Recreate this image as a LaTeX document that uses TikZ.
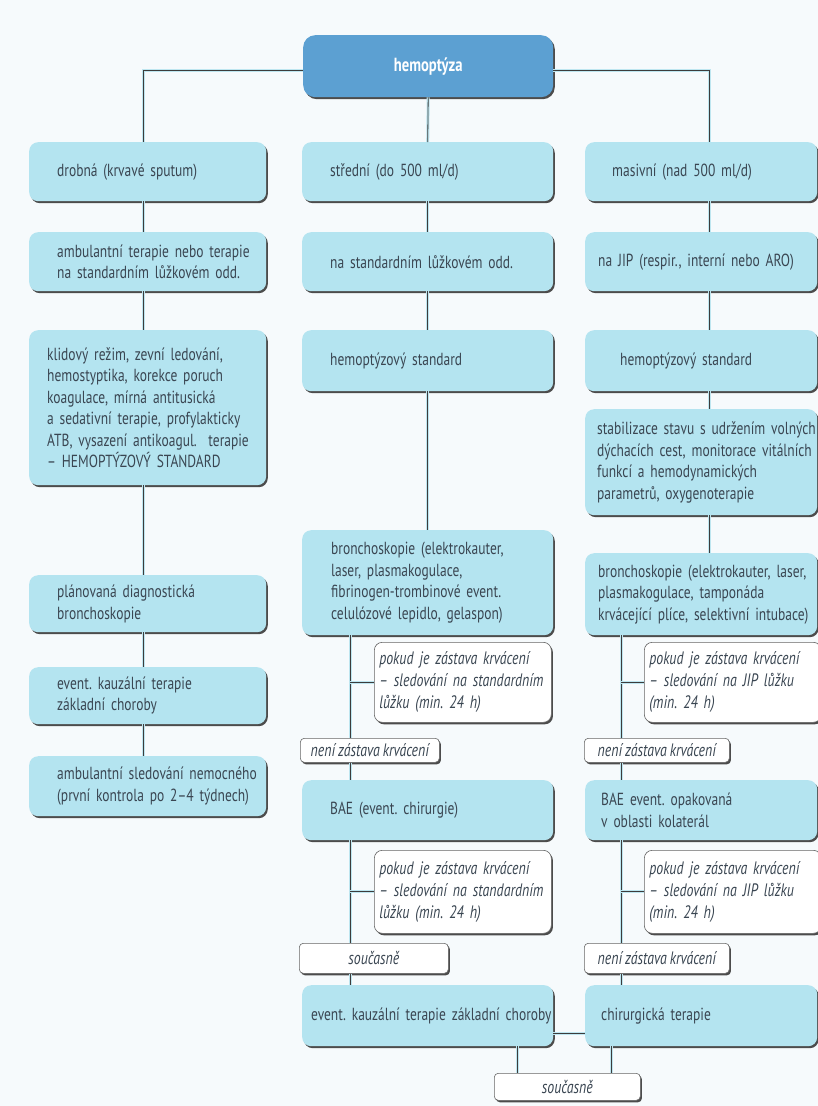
\documentclass[tikz,border=0pt]{standalone}
\usepackage{fontspec}
\setmainfont{PT Sans}[FakeStretch=0.77, WordSpace=0.8]
\usepackage{xcolor}
\usepackage{tikz}
\usetikzlibrary{positioning,calc}

\definecolor{bgc}{RGB}{246,250,252}
\definecolor{boxc}{RGB}{180,228,240}
\definecolor{headc}{RGB}{92,160,210}
\definecolor{txtc}{RGB}{58,70,82}
\definecolor{linec}{RGB}{60,60,60}
\definecolor{haloc}{RGB}{190,230,240}

\tikzset{
  blk/.style={rectangle, fill=boxc, rounded corners=9pt, anchor=north west,
              preaction={fill=black!70, transform canvas={xshift=1.6pt, yshift=-2pt}},
              text=txtc, align=left, inner xsep=6pt, inner ysep=2pt,
              font=\fontsize{17.5}{21.5}\selectfont},
  c1/.style={blk, text width=225pt},
  c2/.style={blk, text width=239pt},
  c3/.style={blk, text width=224pt, inner xsep=4pt},
  ind/.style={execute at begin node={\leftskip=#1pt\rightskip=-25pt plus 1fil}},
  hblk/.style={blk, fill=headc, rounded corners=12pt, text=white, align=center,
               font=\bfseries\fontsize{19}{22}\selectfont},
  nblk/.style={blk, fill=white, draw=black!60, line width=0.6pt, rounded corners=8pt,
               inner xsep=5pt, text width=167pt, ind=0,
               font=\itshape\fontsize{18}{22}\selectfont},
  sblk/.style={blk, fill=white, draw=black!60, line width=0.6pt, rounded corners=4pt,
               inner xsep=1pt, align=center, font=\itshape\fontsize{18}{20}\selectfont},
  ln/.style={draw=linec, line width=0.8pt, preaction={draw=haloc, line width=3pt}},
}

\begin{document}
\frenchspacing
\begin{tikzpicture}[x=1pt, y=-1pt]

\fill[bgc] (0,0) rectangle (818,1106);
\useasboundingbox (0,0) rectangle (818,1106);

% Header
\node[hblk, minimum width=250pt, minimum height=62pt] (top) at (303,35) {hemoptýza};

% Column 1: drobná
\node[c1, minimum height=59pt, ind=22] (c1a) at (29,142) {drobná (krvavé sputum)};
\node[c1, minimum height=59pt, ind=22] (c1b) at (29,232) {ambulantní terapie nebo terapie\\na standardním lůžkovém odd.};
\node[c1, minimum height=155pt, ind=12] (c1c) at (29,330) {klidový režim, zevní ledování,\\hemostyptika, korekce poruch\\koagulace, mírná antitusická\\a sedativní terapie, profylakticky\\ATB, vysazení antikoagul.\ \ terapie\\– HEMOPTÝZOVÝ STANDARD};
\node[c1, minimum height=57pt, ind=22] (c1d) at (29,575) {plánovaná diagnostická\\bronchoskopie};
\node[c1, minimum height=57pt, ind=22] (c1e) at (29,667) {event. kauzální terapie\\základní choroby};
\node[c1, minimum height=60pt, ind=22] (c1f) at (29,756) {ambulantní sledování nemocného\\(první kontrola po 2–4 týdnech)};

% Column 2: střední
\node[c2, minimum height=59pt, ind=22] (c2a) at (302,142) {střední (do 500 ml/d)};
\node[c2, minimum height=59pt, ind=22] (c2b) at (302,232) {na standardním lůžkovém odd.};
\node[c2, minimum height=61pt, ind=22] (c2c) at (302,330) {hemoptýzový standard};
\node[c2, minimum height=105pt, ind=23] (c2d) at (302,530) {bronchoskopie (elektrokauter,\\laser, plasmakogulace,\\fibrinogen-trombinové event.\\celulózové lepidlo, gelaspon)};
\node[nblk, minimum height=80pt] (c2e) at (374,642) {pokud je zástava krvácení\\– sledování na standardním\\lůžku (min. 24 h)};
\node[sblk, minimum width=139pt, minimum height=24pt] (c2f) at (300,738) {není zástava krvácení};
\node[c2, minimum height=60pt, ind=22] (c2g) at (302,780) {BAE (event. chirurgie)};
\node[nblk, minimum height=83pt] (c2h) at (374,850) {pokud je zástava krvácení\\– sledování na standardním\\lůžku (min. 24 h)};
\node[sblk, minimum width=149pt, minimum height=30pt] (c2i) at (299,943) {současně};
\node[c2, text width=243pt, inner xsep=4pt, minimum height=61pt, ind=5] (c2j) at (302,985) {event. kauzální terapie základní choroby};

% Column 3: masivní
\node[c3, minimum height=59pt, ind=23] (c3a) at (585,142) {masivní (nad 500 ml/d)};
\node[c3, minimum height=59pt, ind=9] (c3b) at (585,232) {na JIP (respir., interní nebo ARO)};
\node[c3, minimum height=61pt, ind=31] (c3c) at (585,330) {hemoptýzový standard};
\node[c3, minimum height=106pt, ind=8] (c3d) at (585,409) {stabilizace stavu s udržením volných\\dýchacích cest, monitorace vitálních\\funkcí a hemodynamických\\parametrů, oxygenoterapie};
\node[c3, minimum height=82pt, ind=9] (c3e) at (585,553) {bronchoskopie (elektrokauter, laser,\\plasmakogulace, tamponáda\\krvácející plíce, selektivní intubace)};
\node[nblk, minimum height=80pt] (c3f) at (644,642) {pokud je zástava krvácení\\– sledování na JIP lůžku\\(min. 24 h)};
\node[sblk, minimum width=145pt, minimum height=24pt] (c3g) at (584,738) {není zástava krvácení};
\node[c3, minimum height=60pt, ind=12] (c3h) at (585,780) {BAE event. opakovaná\\v oblasti kolaterál};
\node[nblk, minimum height=83pt] (c3i) at (644,850) {pokud je zástava krvácení\\– sledování na JIP lůžku\\(min. 24 h)};
\node[sblk, minimum width=145pt, minimum height=30pt] (c3j) at (584,943) {není zástava krvácení};
\node[c3, minimum height=61pt, ind=12] (c3k) at (585,985) {chirurgická terapie};

% Bottom
\node[sblk, minimum width=146pt, minimum height=27pt] (sim) at (494,1073) {současně};

% Line positions
\coordinate (hy) at (0,70);
\coordinate (x1) at (143,0);
\coordinate (x3) at (709,0);
\coordinate (s2) at (350,0);
\coordinate (s3) at (621,0);
\coordinate (b1) at (517,0);
\coordinate (b2) at (611,0);
\coordinate (by) at (0,1033);

% Header links
\draw[ln] (top.west |- hy) -| (c1a.north -| x1);
\draw[ln] (top.east |- hy) -| (c3a.north -| x3);
\draw[ln] (top.south) -- (c2a.north);

% Column 1 links
\draw[ln] (c1a.south -| x1) -- (c1b.north -| x1);
\draw[ln] (c1b.south -| x1) -- (c1c.north -| x1);
\draw[ln] (c1c.south -| x1) -- (c1d.north -| x1);
\draw[ln] (c1d.south -| x1) -- (c1e.north -| x1);
\draw[ln] (c1e.south -| x1) -- (c1f.north -| x1);

% Column 2 links
\draw[ln] (c2a.south) -- (c2b.north);
\draw[ln] (c2b.south) -- (c2c.north);
\draw[ln] (c2c.south) -- (c2d.north);
\draw[ln] (c2d.south -| s2) -- (c2f.north -| s2);
\draw[ln] (c2e.west -| s2) -- (c2e.west);
\draw[ln] (c2f.south -| s2) -- (c2g.north -| s2);
\draw[ln] (c2g.south -| s2) -- (c2i.north -| s2);
\draw[ln] (c2h.west -| s2) -- (c2h.west);
\draw[ln] (c2i.south -| s2) -- (c2j.north -| s2);

% Column 3 links
\draw[ln] (c3a.south -| x3) -- (c3b.north -| x3);
\draw[ln] (c3b.south -| x3) -- (c3c.north -| x3);
\draw[ln] (c3c.south -| x3) -- (c3d.north -| x3);
\draw[ln] (c3d.south -| x3) -- (c3e.north -| x3);
\draw[ln] (c3e.south -| s3) -- (c3g.north -| s3);
\draw[ln] (c3f.west -| s3) -- (c3f.west);
\draw[ln] (c3g.south -| s3) -- (c3h.north -| s3);
\draw[ln] (c3h.south -| s3) -- (c3j.north -| s3);
\draw[ln] (c3i.west -| s3) -- (c3i.west);
\draw[ln] (c3j.south -| s3) -- (c3k.north -| s3);

% Bottom links
\draw[ln] (c2j.east |- by) -- (c3k.west |- by);
\draw[ln] (c2j.south -| b1) -- (sim.north -| b1);
\draw[ln] (c3k.south -| b2) -- (sim.north -| b2);

\end{tikzpicture}
\end{document}
